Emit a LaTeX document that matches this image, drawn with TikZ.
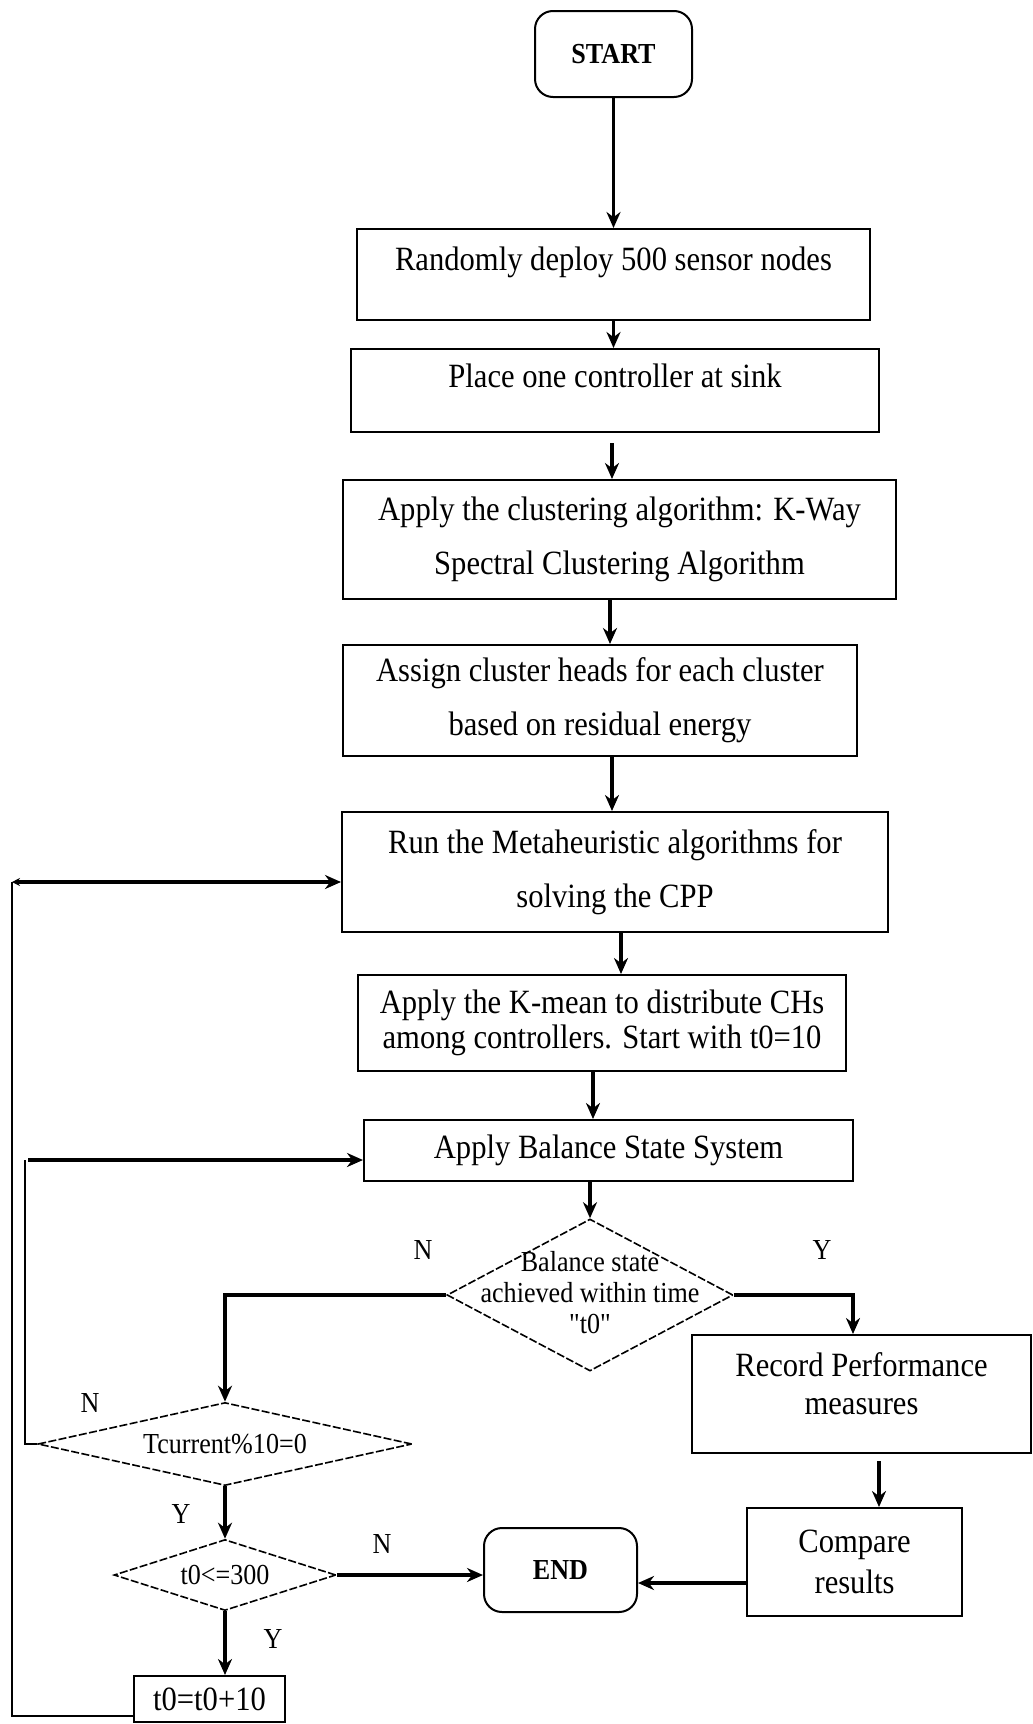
\documentclass[tikz,border=0pt]{standalone}
\usepackage{fontspec}
\setmainfont{Liberation Serif}[FakeStretch=0.9]
% same face without the TeX input mapping, so that " stays a straight quote
\newfontfamily\plainquotes{Liberation Serif}[FakeStretch=0.9,Ligatures=TeXOff]
\usetikzlibrary{arrows.meta,shapes.geometric,calc}

% text of zero size, centred on the node centre
\newcommand{\midtext}[1]{\makebox[0pt]{\smash{\raisebox{-0.33em}{#1}}}}
\newcommand{\midblock}[2][0pt]{\makebox[0pt]{\smash{\raisebox{#1}{\begin{tabular}{@{}c@{}}#2\end{tabular}}}}}
\newcommand{\lifted}[2]{\makebox[0pt]{\smash{\raisebox{#1}{#2}}}}

\begin{document}
\begin{tikzpicture}[x=0.5pt,y=-0.5pt,
  box/.style={draw, line width=1pt, rectangle, inner sep=0pt, align=center,
              font=\fontsize{17}{27}\selectfont},
  term/.style={draw, line width=1pt, rectangle, rounded corners=9pt, inner sep=0pt,
               font=\fontsize{14.5}{17}\selectfont\bfseries},
  dia/.style={draw, diamond, dash pattern=on 4pt off 1.2pt, line width=0.8pt,
              inner sep=0pt, font=\fontsize{14.5}{15.5}\selectfont},
  arr/.style={line width=1.7pt, -{Stealth[length=8pt,width=7pt]}},
  ret/.style={line width=1pt},
  yn/.style={inner sep=0pt, font=\fontsize{14.5}{15}\selectfont},
]
\useasboundingbox (0,0) rectangle (1033,1724);

% main column
\node[term, minimum width=78.5pt, minimum height=43pt] (start) at (613.5,54) {START};
\node[box, minimum width=256.5pt, minimum height=45.5pt] (b1) at (613.5,274.5)
  {\lifted{2.2pt}{Randomly deploy 500 sensor nodes}};
\node[box, minimum width=264pt, minimum height=41.5pt] (b2) at (615,390.5)
  {\lifted{1.3pt}{Place one controller at sink}};
\node[box, minimum width=276.5pt, minimum height=59.5pt] (b3) at (619.5,539.5)
  {Apply the clustering algorithm: K-Way\\Spectral Clustering Algorithm};
\node[box, minimum width=257pt, minimum height=55.5pt] (b4) at (600,700.5)
  {Assign cluster heads for each cluster\\based on residual energy};
\node[box, minimum width=273pt, minimum height=60pt] (b5) at (615,872)
  {Run the Metaheuristic algorithms for\\solving the CPP};
\node[box, minimum width=244pt, minimum height=48pt, font=\fontsize{17}{17.5}\selectfont] (b6) at (602,1023)
  {Apply the K-mean to distribute CHs\\among controllers. Start with t0=10};
\node[box, minimum width=244.5pt, minimum height=30.5pt] (b7) at (608.5,1150.5)
  {Apply Balance State System};

% decisions
\node[dia, minimum width=143pt, minimum height=76pt] (d1) at (590,1295)
  {\midblock[-4pt]{Balance state\\achieved within time\\{\plainquotes "t0"}}};
\node[dia, minimum width=187pt, minimum height=41.5pt] (d2) at (225,1444)
  {\midtext{Tcurrent\%10=0}};
\node[dia, minimum width=111pt, minimum height=35.5pt] (d3) at (225,1575)
  {\midtext{t0<=300}};

% right branch and end
\node[box, minimum width=169.5pt, minimum height=59pt, font=\fontsize{17}{19}\selectfont] (rec) at (861.5,1394)
  {\midblock[-1.5pt]{Record Performance\\measures}};
\node[box, minimum width=107.5pt, minimum height=54pt, font=\fontsize{17}{20.5}\selectfont] (cmp) at (854.5,1562)
  {Compare\\results};
\node[term, minimum width=76.5pt, minimum height=42pt] (end) at (560.5,1570) {END};
\node[box, minimum width=75.5pt, minimum height=23pt] (t0) at (209.5,1699) {t0=t0+10};

% branch labels
\node[yn] (n1) at (423,1250) {N};
\node[yn] (y1) at (822,1250) {Y};
\node[yn] (n2) at (90,1403) {N};
\node[yn] (y2) at (181,1514) {Y};
\node[yn] (n3) at (382,1544) {N};
\node[yn] (y3) at (273,1639) {Y};

% straight flow
\draw[arr] (start.south) -- (start.south |- b1.north);
\draw[arr] (b1.south) -- (b1.south |- b2.north);
\coordinate (a23) at ($(b2.south)+(-3,10)$);
\draw[arr] (a23) -- (a23 |- b3.north);
\coordinate (a34) at ($(b3.south)+(-9.5,0)$);
\draw[arr] (a34) -- (a34 |- b4.north);
\coordinate (a45) at ($(b4.south)+(12,0)$);
\draw[arr] (a45) -- (a45 |- b5.north);
\coordinate (a56) at ($(b5.south)+(6,0)$);
\draw[arr] (a56) -- (a56 |- b6.north);
\coordinate (a67) at ($(b6.south)+(-9,0)$);
\draw[arr] (a67) -- (a67 |- b7.north);
\draw[arr] (d1.north |- b7.south) -- (d1.north);

% decision branches
\draw[arr] (d1.west) -| (d2.north);
\coordinate (rq) at ($(rec.north)+(-8.5,0)$);
\draw[arr] (d1.east) -| (rq);
\coordinate (rc) at ($(rec.south)+(17.5,7)$);
\draw[arr] (rc) -- (rc |- cmp.north);
\coordinate (ce) at ($(cmp.west)+(0,21)$);
\draw[arr] (ce) -- (ce -| end.east);
\draw[arr] (d2.south) -- (d3.north);
\draw[arr] (d3.east) -- (d3.east -| end.west);
\draw[arr] (d3.south) -- (d3.south |- t0.north);

% loop back to the balance step
\coordinate (ik) at (25,1160);
\coordinate (k7) at ($(b7.west)+(0,9.5)$);
\draw[ret] (d2.west) -| (ik);
\draw[arr] ($(ik)+(3,0)$) -- (k7);

% loop back to the metaheuristic step
\coordinate (ok) at (12,882);
\coordinate (k5) at ($(b5.west)+(0,10)$);
\coordinate (tl) at ($(t0.west)+(0,17)$);
\draw[ret] (tl) -| (ok);
\draw[line width=1.7pt, {Stealth[length=4pt,width=4pt]}-{Stealth[length=8pt,width=7pt]}] (ok) -- (k5);
\end{tikzpicture}
\end{document}
